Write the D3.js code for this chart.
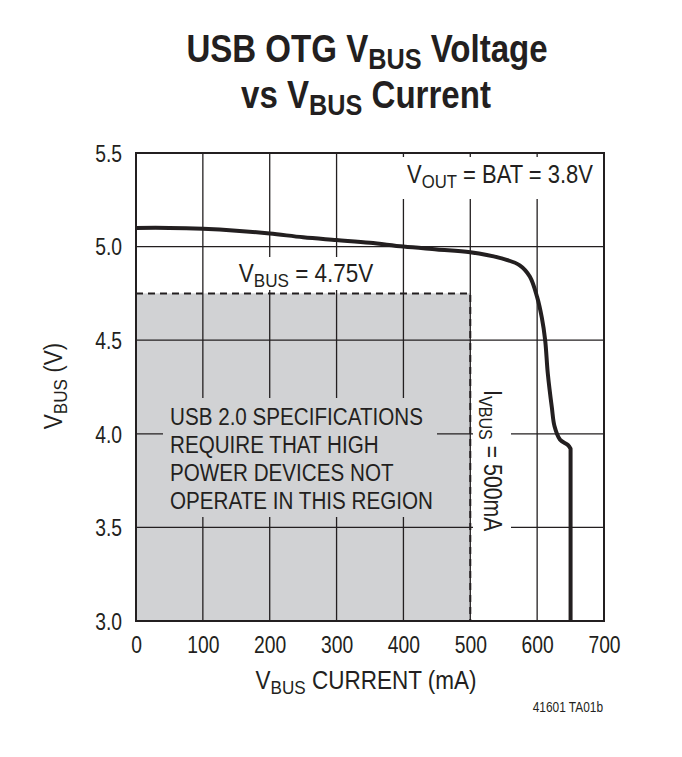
<!DOCTYPE html>
<html><head><meta charset="utf-8">
<script src="https://cdn.jsdelivr.net/npm/d3@7/dist/d3.min.js"></script>
<style>
html,body{margin:0;padding:0;background:#fff;}
svg{display:block;}
text{font-family:"Liberation Sans",Arimo,Arial,sans-serif;fill:#231f20;}
</style></head>
<body>
<script>
// ---- data ----
const currentMA = [0, 50, 100, 150, 200, 250, 300, 350, 400, 450, 500, 544, 574, 589, 600, 607, 612, 616, 622, 626, 634, 646, 650, 650];
const vbusV     = [5.10, 5.10, 5.095, 5.085, 5.07, 5.05, 5.035, 5.02, 5.0, 4.985, 4.97, 4.94, 4.90, 4.84, 4.73, 4.62, 4.50, 4.32, 4.14, 4.04, 3.97, 3.94, 3.92, 3.0];
const xTicks = [0, 100, 200, 300, 400, 500, 600, 700];
const yTicks = [3.0, 3.5, 4.0, 4.5, 5.0, 5.5];
const regionLimitMA = 500;
const regionLimitV = 4.75;
const regionText = ["USB 2.0 SPECIFICATIONS", "REQUIRE THAT HIGH", "POWER DEVICES NOT", "OPERATE IN THIS REGION"];

const W = 682, H = 757;
const L = 136, R = 604, T = 153, B = 621;
const svg = d3.select("body").append("svg").attr("width", W).attr("height", H);
const x = d3.scaleLinear().domain([0, 700]).range([L, R]);
const y = d3.scaleLinear().domain([3.0, 5.5]).range([B, T]);
const ink = "#231f20";
const SQ = 0.85; // horizontal condensation factor

// condense a text element horizontally around its anchor point
function condense(sel, ax, ay, rot, factor) {
  const r = rot || 0;
  sel.attr("x", 0).attr("y", 0)
     .attr("transform", `translate(${ax},${ay}) rotate(${r}) scale(${factor},1)`);
  return sel;
}
function richText(parent, parts, size, subSize, subDy) {
  const t = parent.append("text").attr("font-size", size);
  let down = false;
  parts.forEach(p => {
    const ts = t.append("tspan").text(p.t);
    if (p.sub) { ts.attr("font-size", subSize).attr("dy", subDy); down = true; }
    else if (down) { ts.attr("dy", -subDy); down = false; }
  });
  return t;
}

// shaded region
svg.append("rect").attr("x", x(0)).attr("y", y(regionLimitV))
  .attr("width", x(regionLimitMA) - x(0)).attr("height", y(3.0) - y(regionLimitV))
  .attr("fill", "#d1d2d4");

// gridlines
const grid = svg.append("g").attr("stroke", ink).attr("stroke-width", 1.3);
grid.selectAll("line.v").data(xTicks.slice(1, -1)).join("line")
  .attr("x1", d => x(d)).attr("x2", d => x(d)).attr("y1", T).attr("y2", B);
grid.selectAll("line.h").data(yTicks.slice(1, -1)).join("line")
  .attr("x1", L).attr("x2", R).attr("y1", d => y(d)).attr("y2", d => y(d));

// dashed region border
svg.append("path")
  .attr("d", `M${x(0)},${y(regionLimitV)}H${x(regionLimitMA)}V${y(3.0)}`)
  .attr("fill", "none").attr("stroke", ink).attr("stroke-width", 2)
  .attr("stroke-dasharray", "7,5");

// label backgrounds
svg.append("rect").attr("x", 398).attr("y", 157).attr("width", 203).attr("height", 42).attr("fill", "#fff");
svg.append("rect").attr("x", 230).attr("y", 257).attr("width", 160).attr("height", 33).attr("fill", "#fff");
svg.append("rect").attr("x", 163).attr("y", 398).attr("width", 274).attr("height", 119).attr("fill", "#d1d2d4");
svg.append("rect").attr("x", 473).attr("y", 386).attr("width", 38).attr("height", 150).attr("fill", "#fff");

// curve
const pts = currentMA.map((d, i) => [x(d), y(vbusV[i])]);
const smooth = d3.line().curve(d3.curveCatmullRom.alpha(0.5))(pts.slice(0, -1));
const last = pts[pts.length - 1];
svg.append("path").attr("d", smooth + `L${last[0]},${last[1]}`)
  .attr("fill", "none").attr("stroke", ink).attr("stroke-width", 4)
  .attr("stroke-linejoin", "round");

// frame
svg.append("rect").attr("x", L).attr("y", T).attr("width", R - L).attr("height", B - T)
  .attr("fill", "none").attr("stroke", ink).attr("stroke-width", 2);

// tick labels via axes
const xAxis = d3.axisBottom(x).tickValues(xTicks).tickSize(0).tickPadding(0).tickFormat(d3.format("d"));
const gx = svg.append("g").attr("transform", `translate(0,${B})`).call(xAxis);
gx.select(".domain").remove();
gx.selectAll(".tick text").attr("dy", null).attr("font-size", 23)
  .each(function () { condense(d3.select(this), 0, 32, 0, 0.84); });
gx.attr("font-family", null).attr("font-size", null);

const yAxis = d3.axisLeft(y).tickValues(yTicks).tickSize(0).tickPadding(0).tickFormat(d3.format(".1f"));
const gy = svg.append("g").attr("transform", `translate(${L},0)`).call(yAxis);
gy.select(".domain").remove();
gy.selectAll(".tick text").attr("dy", "0.36em").attr("font-size", 23)
  .each(function () { condense(d3.select(this), -14, 0, 0, 0.84); });
gy.attr("font-family", null).attr("font-size", null);

// titles
const tg = svg.append("g").attr("font-weight", "bold").attr("text-anchor", "middle");
condense(richText(tg, [{t: "USB OTG V"}, {t: "BUS", sub: true}, {t: " Voltage"}], 38, 29, 7), 367, 62, 0, 0.87);
condense(richText(tg, [{t: "vs V"}, {t: "BUS", sub: true}, {t: " Current"}], 38, 29, 7), 366, 108, 0, 0.87);

// axis titles
const ag = svg.append("g").attr("text-anchor", "middle");
condense(richText(ag, [{t: "V"}, {t: "BUS", sub: true}, {t: " CURRENT (mA)"}], 25, 19, 5), 366, 689, 0, 0.9);
condense(richText(ag, [{t: "V"}, {t: "BUS", sub: true}, {t: " (V)"}], 25, 19, 5), 62, 386, -90, 0.9);

// annotations
const ng = svg.append("g");
condense(richText(ng, [{t: "V"}, {t: "OUT", sub: true}, {t: " = BAT = 3.8V"}], 25, 19, 5), 593, 183, 0, 0.88)
  .attr("text-anchor", "end");
condense(richText(ng, [{t: "V"}, {t: "BUS", sub: true}, {t: " = 4.75V"}], 25, 19, 5), 306, 282, 0, 0.9)
  .attr("text-anchor", "middle");
condense(richText(ng, [{t: "I"}, {t: "VBUS", sub: true}, {t: " = 500mA"}], 25, 19, 5), 484, 390, 90, SQ);

ng.selectAll("text.region").data(regionText).join("text").attr("class", "region")
  .attr("font-size", 24).text(d => d)
  .each(function (d, i) { condense(d3.select(this), 170, 425 + i * 28, 0, 0.86); });

condense(svg.append("text").attr("text-anchor", "end").attr("font-size", 14).text("41601 TA01b"), 603, 712, 0, SQ);
</script>
</body></html>
